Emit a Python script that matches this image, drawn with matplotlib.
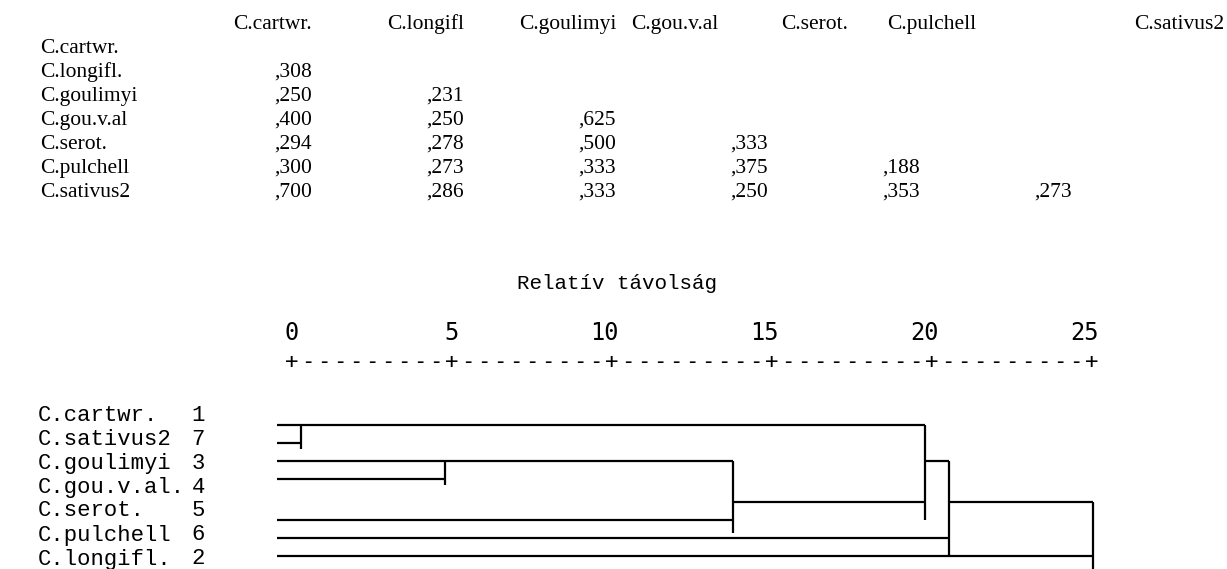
import matplotlib.pyplot as plt

# proximity matrix (lower triangle)
row_names = ["C.cartwr.", "C.longifl.", "C.goulimyi", "C.gou.v.al", "C.serot.", "C.pulchell", "C.sativus2"]
col_names = ["C.cartwr.", "C.longifl", "C.goulimyi", "C.gou.v.al", "C.serot.", "C.pulchell", "C.sativus2"]
prox = [
    [],
    [0.308],
    [0.250, 0.231],
    [0.400, 0.250, 0.625],
    [0.294, 0.278, 0.500, 0.333],
    [0.300, 0.273, 0.333, 0.375, 0.188],
    [0.700, 0.286, 0.333, 0.250, 0.353, 0.273],
]

# dendrogram (rescaled distance 0-25)
leaf_names = ["C.cartwr.", "C.sativus2", "C.goulimyi", "C.gou.v.al.", "C.serot.", "C.pulchell", "C.longifl."]
leaf_ids = [1, 7, 3, 4, 5, 6, 2]
merge_dist = [0.74, 5.15, 13.97, 19.85, 20.59, 25.0]
leaf_merge = [0, 0, 1, 1, 2, 4, 5]          # first merge each leaf enters
merge_parent = [3, 2, 3, 4, 5, None]        # merge each cluster enters next
scale_ticks = [0, 5, 10, 15, 20, 25]

W, H = 1227, 569
fig = plt.figure(figsize=(W / 100, H / 100), dpi=100)
ax = fig.add_axes([0, 0, 1, 1])
ax.set_xlim(0, W)
ax.set_ylim(H, 0)
ax.axis("off")

serif = "Liberation Serif"
mono = "Liberation Mono"

# ---- table ----
col_right = [312 + 152 * i for i in range(7)]
header_y = 24
row_y = [48 + 24 * i for i in range(7)]

# header placement: (x, alignment) per column
header_pos = [(312, "right"), (464, "right"), (616, "right"), (631, "left"),
              (781, "left"), (887, "left"), (1224, "right")]
for name, (hx, ha) in zip(col_names, header_pos):
    ax.text(hx, header_y, name, ha=ha, va="center", family=serif, fontsize=15.5)

for i, name in enumerate(row_names):
    ax.text(40, row_y[i], name, ha="left", va="center", family=serif, fontsize=15.5)
    for j, v in enumerate(prox[i]):
        s = f"{v:.3f}"[1:].replace(".", ",")
        ax.text(col_right[j], row_y[i], s, ha="right", va="center", family=serif, fontsize=15.5)

# ---- scale header ----
ax.text(617, 283, "Relatív távolság", ha="center", va="center", family=mono, fontsize=15)

tick_x0, tick_step = 292, 32.0
for t in scale_ticks:
    ax.text(tick_x0 + t * tick_step + 7, 333, str(t), ha="right", va="center",
            family="DejaVu Sans Mono", fontsize=17)
ruler = "+---------" * 5 + "+"
for k, ch in enumerate(ruler):
    ax.text(tick_x0 + k * tick_step / 2, 362, ch, ha="center", va="center",
            family="DejaVu Sans Mono", fontsize=16)

# ---- leaf labels ----
for i, (name, lid) in enumerate(zip(leaf_names, leaf_ids)):
    y = 415 + 24 * i
    ax.text(38, y, name, ha="left", va="center", family=mono, fontsize=16)
    ax.text(205, y, str(lid), ha="right", va="center", family=mono, fontsize=16)

# ---- dendrogram ----
axd = fig.add_axes([277 / W, 0, (1093 - 277) / W, 1])
axd.set_xlim(0, 25)
axd.set_ylim(H, 0)
axd.axis("off")

leaf_y = [425, 443, 461, 479, 520, 538, 556]
vert_top = [425, 461, 461, 425, 461, 502]
vert_bot = [449, 485, 533, 520, 556, 580]
out_y = [425, 461, 502, 461, 502, None]

kw = dict(color="black", lw=1.6, solid_capstyle="butt", clip_on=False)
for i, m in enumerate(leaf_merge):
    axd.plot([0, merge_dist[m]], [leaf_y[i], leaf_y[i]], **kw)
for m, d in enumerate(merge_dist):
    axd.plot([d, d], [vert_top[m], vert_bot[m]], **kw)
    p = merge_parent[m]
    if p is not None:
        axd.plot([d, merge_dist[p]], [out_y[m], out_y[m]], **kw)

fig.savefig("out.png", dpi=100, facecolor="white")
